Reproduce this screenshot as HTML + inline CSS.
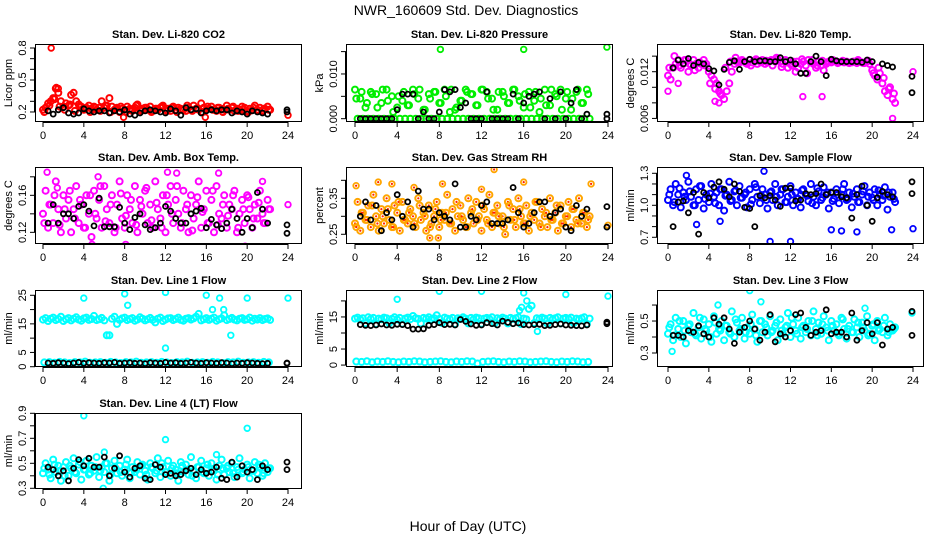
<!DOCTYPE html>
<html><head><meta charset="utf-8">
<style>
html,body{margin:0;padding:0;background:#fff;}
svg{display:block;font-family:"Liberation Sans",sans-serif;}
</style></head>
<body>
<svg id="chart" width="936" height="540" viewBox="0 0 936 540" xmlns="http://www.w3.org/2000/svg">
<rect x="0" y="0" width="936" height="540" fill="#fff"/>
<text x="466" y="15" font-size="14" text-anchor="middle">NWR_160609  Std. Dev. Diagnostics</text>
<text x="468" y="531" font-size="14" text-anchor="middle">Hour of Day (UTC)</text>
</svg>
<script>
// ---- data ----
const xTicks = [0,4,8,12,16,20,24];

const co2Color = [0.22,0.24,0.28,0.30,0.33,0.42,0.38,0.30,0.25,0.28,
0.26,0.36,0.38,0.30,0.27,0.25,0.22,0.24,0.26,0.23,
0.25,0.22,0.24,0.30,0.24,0.26,0.33,0.25,0.22,0.24,
0.20,0.23,0.22,0.25,0.23,0.21,0.24,0.27,0.22,0.23,
0.24,0.22,0.25,0.21,0.23,0.22,0.24,0.26,0.22,0.23,
0.21,0.25,0.22,0.24,0.23,0.22,0.21,0.24,0.22,0.26,
0.23,0.22,0.28,0.24,0.22,0.23,0.25,0.22,0.21,0.24,
0.23,0.22,0.26,0.22,0.24,0.21,0.23,0.22,0.25,0.24,
0.21,0.23,0.22,0.26,0.22,0.24,0.21,0.23,0.25,0.22];
const co2Color2 = [0.20,0.26,0.32,0.25,0.22,0.27,0.21,0.25,0.23,0.20,
0.24,0.21,0.26,0.20,0.23,0.25,0.20,0.22,0.26,0.21,
0.24,0.20,0.23,0.25,0.21,0.24,0.20,0.22,0.26,0.21,
0.23,0.20,0.25,0.22,0.24,0.20,0.23,0.25,0.21,0.22,
0.20,0.24,0.21,0.23,0.22];
const co2Black = [0.21,0.18,0.22,0.24,0.19,0.18,0.19,0.23,0.21,0.20,
0.21,0.21,0.19,0.21,0.20,0.22,0.18,0.17,0.19,0.21,
0.22,0.21,0.20,0.19,0.23,0.21,0.17,0.24,0.22,0.23,
0.19,0.21,0.22,0.21,0.22,0.22,0.19,0.21,0.20,0.18,
0.21,0.20,0.19,0.18];
const co2Late = [0.22,0.20];
const co2OutH = [0.8,1.3,1.5,7.9,15.9,24];
const co2OutV = [0.80,0.43,0.42,0.15,0.15,0.17];

const presColor = [0.0065,0,0.0045,0,0.0025,0,0.006,0,0.0055,0,
0.0035,0,0.0065,0,0.005,0,0.0025,0,0.004,0,
0.003,0,0.0065,0,0.0045,0,0.002,0,0.0055,0,
0.006,0,0.0035,0,0.0065,0,0.0015,0,0.002,0,
0.004,0,0.0065,0,0.0055,0,0.003,0,0.0065,0,
0.006,0,0.0045,0,0.002,0,0.006,0,0.0035,0,
0.0065,0,0.005,0,0.0025,0,0.006,0,0.004,0,
0.0015,0,0.0065,0,0.003,0,0.0055,0,0.0065,0,
0.0045,0,0.002,0,0.006,0,0.0035,0,0.0065,0];
const presColor2 = [0.0045,0.006,0.0035,0.0055,0.0025,0.0065,0.004,0.0015,0.005,0.006,
0.003,0.0055,0.0065,0.002,0.0045,0.006,0.0035,0.005,0.0065,0.0025,
0.004,0.006,0.0055,0.003,0.0065,0.0045,0.002,0.006,0.005,0.0035,
0.0065,0.004,0.0055,0.0025,0.006,0.0045,0.003,0.0065,0.005,0.002,
0.006,0.0045,0.0065,0.0035,0.0055];
const presBlack = [0,0,0,0,0,0,0,0.002,0.0055,0.0055,
0.0055,0,0.0015,0,0,0.0015,0.0065,0.006,0.0065,0.0025,
0.0035,0,0,0,0.006,0,0,0,0,0.0055,
0,0.0035,0.005,0.0055,0.006,0,0.0045,0,0.006,0,
0.0035,0.0065,0,0.001];
const presLate = [0.001,0];
const presOutH = [8.1,16,23.9];
const presOutV = [0.0155,0.0155,0.016];

const tempColor = [0.0115,0.011,0.0125,0.013,0.0135,0.0125,0.013,0.0135,0.012,0.0128,
0.0135,0.013,0.0125,0.013,0.0135,0.013,0.012,0.0115,0.011,0.0105,
0.0095,0.009,0.0085,0.0095,0.0105,0.012,0.013,0.0133,0.0132,0.0135,
0.0133,0.013,0.0135,0.0132,0.0134,0.013,0.0133,0.0135,0.013,0.0132,
0.0134,0.0128,0.0133,0.0136,0.0133,0.013,0.0135,0.0125,0.013,0.0133,
0.012,0.0125,0.013,0.0133,0.0128,0.0135,0.0132,0.013,0.0125,0.0133,
0.0128,0.0122,0.013,0.0133,0.0132,0.0134,0.0133,0.0132,0.0133,0.0132,
0.0133,0.0131,0.0132,0.0133,0.0131,0.0133,0.0132,0.0131,0.0133,0.013,
0.0122,0.0115,0.011,0.0118,0.0105,0.0095,0.009,0.01,0.0085,0.008];
const tempColor2 = [0.0125,0.014,0.0128,0.0135,0.013,0.0122,0.0132,0.0128,0.0105,0.0098,
0.0092,0.0125,0.0133,0.0138,0.0134,0.0131,0.0128,0.0136,0.0132,0.0134,
0.0135,0.0138,0.0126,0.0132,0.0128,0.0133,0.0136,0.0118,0.0135,0.0128,
0.0134,0.0132,0.0135,0.0131,0.0134,0.0132,0.0133,0.0135,0.0131,0.0134,
0.0118,0.0125,0.0112,0.0098,0.0092];
const tempBlack = [0.0125,0.0135,0.013,0.0137,0.0128,0.0132,0.013,0.0124,0.0121,0.0103,
0.0123,0.0132,0.0134,0.0123,0.0133,0.0136,0.0133,0.0134,0.0134,0.0133,
0.0133,0.0138,0.0133,0.0135,0.013,0.0118,0.0118,0.0133,0.014,0.0133,
0.0115,0.0136,0.0134,0.0133,0.0133,0.0133,0.0133,0.0132,0.0135,0.0133,
0.0113,0.013,0.0128,0.0126];
const tempLate = [0.0114,0.0093];
const tempOutH = [0,1,13.2,15.1,4.6,5,22,24];
const tempOutV = [0.0095,0.0105,0.0088,0.0088,0.0082,0.008,0.006,0.012];

const ambColor = [0.14,0.165,0.125,0.15,0.13,0.175,0.145,0.12,0.16,0.135,
0.155,0.12,0.145,0.17,0.13,0.15,0.125,0.16,0.14,0.115,
0.165,0.135,0.155,0.125,0.17,0.145,0.13,0.16,0.12,0.15,
0.175,0.135,0.125,0.16,0.145,0.13,0.17,0.12,0.155,0.14,
0.165,0.13,0.15,0.125,0.175,0.145,0.135,0.16,0.12,0.15,
0.17,0.13,0.155,0.14,0.125,0.165,0.145,0.12,0.16,0.135,
0.15,0.175,0.125,0.145,0.165,0.13,0.155,0.12,0.17,0.14,
0.135,0.16,0.125,0.15,0.145,0.165,0.12,0.14,0.155,0.13,
0.16,0.145,0.125,0.15,0.135,0.165,0.14,0.13,0.155,0.145];
const ambColor2 = [0.13,0.15,0.16,0.128,0.145,0.165,0.135,0.155,0.125,0.16,
0.14,0.17,0.132,0.15,0.125,0.162,0.138,0.155,0.128,0.148,
0.168,0.133,0.152,0.125,0.16,0.14,0.17,0.13,0.15,0.122,
0.158,0.142,0.13,0.165,0.128,0.15,0.138,0.16,0.125,0.145,
0.158,0.135,0.152,0.13,0.145];
const ambBlack = [0.13,0.15,0.13,0.14,0.14,0.135,0.148,0.15,0.143,0.127,
0.157,0.126,0.126,0.126,0.147,0.13,0.123,0.136,0.14,0.128,
0.123,0.125,0.13,0.148,0.143,0.135,0.13,0.13,0.14,0.143,
0.146,0.125,0.134,0.128,0.124,0.13,0.145,0.135,0.12,0.135,
0.125,0.163,0.145,0.13];
const ambLate = [0.128,0.119];
const ambOutH = [0.4,1.4,5.4,12.2,13.1,17.2,21.5,24,4.8,8.1,19.8];
const ambOutV = [0.185,0.168,0.18,0.185,0.184,0.184,0.175,0.15,0.107,0.107,0.105];

const rhColor = [0.28,0.34,0.26,0.31,0.29,0.33,0.27,0.36,0.30,0.26,
0.32,0.28,0.35,0.29,0.27,0.33,0.31,0.26,0.34,0.29,
0.28,0.32,0.30,0.27,0.35,0.29,0.31,0.26,0.33,0.28,
0.30,0.34,0.27,0.31,0.29,0.36,0.28,0.32,0.26,0.30,
0.33,0.29,0.27,0.35,0.31,0.28,0.34,0.30,0.26,0.32,
0.29,0.36,0.27,0.31,0.33,0.28,0.30,0.25,0.34,0.29,
0.32,0.27,0.35,0.30,0.28,0.33,0.26,0.31,0.29,0.34,
0.28,0.32,0.30,0.27,0.35,0.29,0.31,0.26,0.33,0.28,
0.30,0.34,0.27,0.32,0.29,0.35,0.28,0.31,0.27,0.30];
const rhColor2 = [0.27,0.31,0.29,0.33,0.28,0.30,0.32,0.27,0.34,0.29,
0.31,0.28,0.33,0.30,0.27,0.32,0.29,0.31,0.28,0.34,
0.30,0.27,0.32,0.29,0.33,0.28,0.31,0.30,0.27,0.33,
0.29,0.32,0.28,0.30,0.34,0.27,0.31,0.29,0.33,0.28,
0.30,0.32,0.28,0.31,0.29];
const rhBlack = [0.30,0.34,0.29,0.33,0.26,0.31,0.29,0.36,0.30,0.34,
0.27,0.37,0.32,0.32,0.29,0.31,0.30,0.29,0.39,0.27,
0.27,0.30,0.29,0.33,0.34,0.28,0.28,0.28,0.29,0.38,
0.31,0.27,0.28,0.31,0.34,0.34,0.30,0.31,0.32,0.27,
0.26,0.33,0.30,0.32];
const rhLate = [0.327,0.27];
const rhOutH = [0.1,2.2,3.5,5.6,8.3,12,13.2,16,22.4,7.1,7.9,24];
const rhOutV = [0.385,0.395,0.39,0.38,0.39,0.375,0.43,0.395,0.39,0.24,0.24,0.275];

const sfColor = [1.05,1.15,1.0,1.2,1.1,0.98,1.12,1.05,1.22,1.08,
1.0,1.15,1.05,1.18,0.97,1.1,1.03,1.2,1.08,1.12,
1.0,1.15,0.95,1.1,1.22,1.05,1.13,1.0,1.18,1.07,
1.1,0.98,1.15,1.05,1.2,1.08,1.02,1.15,1.1,0.97,
1.12,1.05,1.2,1.0,1.1,1.15,1.03,1.08,1.18,1.0,
1.12,1.06,0.98,1.15,1.1,1.04,1.2,1.08,1.0,1.13,
1.05,1.17,1.1,0.97,1.12,1.06,1.15,1.02,1.1,1.2,
1.05,1.12,0.98,1.08,1.15,1.03,1.1,1.18,1.0,1.12,
1.07,1.15,1.0,1.1,1.05,1.17,0.96,1.08,1.12,1.03];
const sfColor2 = [1.1,1.03,1.16,1.08,1.13,1.0,1.18,1.06,1.11,1.02,
1.15,1.09,1.04,1.14,1.07,1.12,1.01,1.17,1.09,1.05,
1.13,1.08,1.15,1.03,1.1,1.06,1.14,1.09,1.02,1.16,
1.07,1.12,1.04,1.1,1.15,1.06,1.11,1.03,1.13,1.08,
1.05,1.14,1.09,1.12,1.06];
const sfBlack = [0.8,1.03,1.04,0.93,1.12,0.73,1.12,1.07,1.17,1.22,
1.15,1.08,1.2,1.13,0.98,0.97,0.8,1.09,1.07,1.09,
1.05,0.99,1.16,1.16,1.04,1.05,1.11,1.1,1.11,1.2,
1.1,1.12,1.12,1.08,1.07,0.88,1.1,1.18,1.0,0.85,
1.07,1.13,1.1,1.08];
const sfLate = [1.22,1.11];
const sfOutH = [1.8,10,12,9.4,16,17,18.5,21.9,24,2.8,5.1];
const sfOutV = [1.28,0.66,0.66,1.32,0.77,0.76,0.75,0.77,0.78,0.82,0.85];

const l1Color = [16.5,17,16,16.8,17.2,16.3,16.7,17.5,16,16.6,
17,16.2,16.8,17.3,16.5,16.1,16.9,17.2,16.4,16.7,
17.8,16.3,16.6,17.1,16.2,11,11,16.8,17.5,15,
16.4,16.9,17.2,16.3,16.7,17,16.1,16.5,17.3,16.8,
16.2,16.6,17.1,16.4,15.5,16.8,17.2,16,16.5,16.9,
17,16.3,16.7,17.2,16.4,16.1,16.8,17,16.5,16.9,
17.5,18.5,16.2,16.6,17,16.4,16.8,17.2,16.1,16.6,
16.9,18,16.3,16.7,17.1,16.5,16.2,16.8,17,16.4,
16.6,17.2,16.1,16.8,16.5,17,16.3,16.7,16.9,16.4];
const l1Color2 = [1.5,1.6,1.4,1.7,1.5,1.3,1.6,1.5,1.8,1.4,
1.5,1.6,1.4,1.7,1.5,1.3,1.6,1.5,1.8,1.4,
1.5,1.6,1.4,1.7,1.5,1.3,1.6,1.5,1.8,1.4,
1.5,1.6,1.4,1.7,1.5,1.3,1.6,1.5,1.8,1.4,
1.5,1.6,1.4,1.7,1.5];
const l1Black = [1.3,1.2,1.4,1.3,1.1,1.3,1.5,1.2,1.4,1.3,
1.2,1.4,1.3,1.5,1.2,1.3,1.4,1.2,1.3,1.1,
1.4,1.3,1.2,1.5,1.3,1.4,1.2,1.3,1.5,1.3,
1.2,1.4,1.3,1.2,1.4,1.3,1.1,1.3,1.2,1.4,
1.3,1.2,1.1,1.2];
const l1Late = [1.3,1.2];
const l1OutH = [4,8,8.3,12,17.3,16,17.7,20,24,12,18.4,16.6];
const l1OutV = [24,25.5,21.5,26,24,25,20,24,24,6.5,11,20];

const l2Color = [14.5,14.8,14.2,14.6,13,14.9,14.4,14.7,12.8,14.5,
14.3,14.8,14.6,13.1,14.4,14.9,14.2,14.7,12.9,14.5,
14.8,14.3,15.3,14.6,14.4,13,14.7,14.5,14.9,14.2,
14.6,15.5,14.4,13.1,14.8,14.5,14.3,14.7,12.8,14.6,
14.4,14.9,14.5,13,14.7,14.3,14.8,14.6,12.9,14.5,
14.7,14.4,14.9,13.1,14.6,14.3,14.8,14.5,13,14.7,
14.4,14.6,14.9,12.8,14.5,14.3,17.5,18.5,13.1,14.6,
14.4,14.8,14.5,12.9,14.7,14.3,14.6,14.9,13,14.5,
14.7,14.4,14.8,13.1,14.5,14.3,14.6,14.9,12.8,14.5];
const l2Color2 = [1.1,1.0,1.2,0.9,1.1,1.0,1.2,1.0,0.9,1.1,
1.0,1.2,1.1,0.9,1.0,1.1,1.2,1.0,0.9,1.1,
1.0,1.2,1.1,0.5,1.0,1.1,1.2,1.0,0.9,1.1,
1.0,1.2,1.1,0.9,1.0,1.1,1.2,1.0,0.9,1.1,
1.0,1.2,1.1,0.9,1.0];
const l2Black = [12.6,12.4,12.3,12.5,12.8,12.5,12.4,12.7,12.6,12.3,
11.2,11.2,11.3,12.4,12.6,13.2,12.6,12.7,12.5,14.2,
13.6,12.8,12.4,12.5,13.2,12.9,12.5,13.7,13.3,12.9,
13.1,12.6,12.5,12.6,12.7,12.3,12.4,12.6,12.8,12.5,
12.4,12.3,12.2,12.5];
const l2Late = [13.4,12.9];
const l2OutH = [4,8,12,16,20,24,15.8,16.3,15.6,17.3];
const l2OutV = [20.5,23,23,22.5,22,21.5,18,20,17,10.5];

const l3Color = [0.42,0.48,0.38,0.52,0.45,0.40,0.50,0.36,0.47,0.43,
0.55,0.41,0.46,0.39,0.51,0.44,0.48,0.37,0.53,0.42,
0.45,0.50,0.38,0.47,0.43,0.56,0.40,0.49,0.44,0.52,
0.39,0.46,0.42,0.54,0.45,0.37,0.50,0.43,0.48,0.41,
0.53,0.44,0.47,0.38,0.51,0.42,0.46,0.55,0.40,0.48,
0.44,0.52,0.39,0.47,0.43,0.50,0.41,0.56,0.45,0.49,
0.42,0.53,0.46,0.38,0.50,0.44,0.48,0.41,0.52,0.45,
0.39,0.47,0.43,0.51,0.46,0.40,0.49,0.44,0.53,0.42,
0.47,0.38,0.50,0.45,0.43,0.52,0.41,0.48,0.44,0.46];
const l3Color2 = [0.46,0.41,0.50,0.44,0.48,0.42,0.52,0.45,0.40,0.49,
0.44,0.47,0.42,0.51,0.45,0.43,0.48,0.41,0.50,0.46,
0.43,0.49,0.44,0.47,0.52,0.42,0.46,0.45,0.50,0.41,
0.48,0.44,0.47,0.42,0.51,0.45,0.43,0.49,0.46,0.41,
0.48,0.44,0.47,0.43,0.45];
const l3Black = [0.41,0.41,0.40,0.44,0.43,0.47,0.42,0.40,0.52,0.48,
0.52,0.45,0.36,0.43,0.46,0.50,0.45,0.38,0.43,0.54,
0.37,0.42,0.40,0.44,0.54,0.55,0.46,0.41,0.43,0.44,
0.57,0.42,0.43,0.43,0.40,0.55,0.38,0.44,0.49,0.42,
0.49,0.35,0.45,0.46];
const l3Late = [0.56,0.41];
const l3OutH = [8,0.4,4.9,9.1,19.3,23.9];
const l3OutV = [0.69,0.31,0.60,0.62,0.58,0.55];

const l4Color = [0.42,0.50,0.45,0.38,0.53,0.43,0.48,0.36,0.47,0.51,
0.40,0.46,0.54,0.42,0.49,0.37,0.45,0.52,0.41,0.48,
0.44,0.55,0.39,0.47,0.43,0.50,0.36,0.46,0.52,0.42,
0.48,0.40,0.45,0.53,0.38,0.47,0.43,0.51,0.41,0.49,
0.44,0.37,0.50,0.46,0.42,0.54,0.39,0.47,0.43,0.52,
0.40,0.48,0.45,0.36,0.51,0.43,0.49,0.41,0.55,0.44,
0.38,0.47,0.52,0.42,0.46,0.40,0.50,0.44,0.37,0.48,
0.53,0.41,0.46,0.43,0.50,0.39,0.47,0.54,0.42,0.45,
0.49,0.38,0.44,0.51,0.42,0.47,0.40,0.50,0.43,0.46];
const l4Color2 = [0.46,0.41,0.49,0.44,0.40,0.48,0.43,0.51,0.45,0.42,
0.47,0.44,0.50,0.41,0.46,0.43,0.49,0.42,0.45,0.48,
0.41,0.47,0.44,0.50,0.43,0.46,0.42,0.48,0.45,0.40,
0.47,0.43,0.49,0.44,0.41,0.46,0.48,0.42,0.45,0.43,
0.47,0.44,0.49,0.42,0.46];
const l4Black = [0.47,0.45,0.40,0.44,0.36,0.46,0.53,0.48,0.54,0.47,
0.47,0.55,0.40,0.46,0.56,0.43,0.39,0.46,0.48,0.38,
0.37,0.49,0.47,0.41,0.42,0.40,0.41,0.44,0.46,0.41,
0.45,0.42,0.43,0.47,0.38,0.37,0.51,0.39,0.48,0.43,
0.45,0.37,0.48,0.45];
const l4Late = [0.51,0.45];
const l4OutH = [4,12,20,6,5.9,17];
const l4OutV = [0.88,0.69,0.78,0.59,0.30,0.57];

// ---- layout ----
const NS = 'http://www.w3.org/2000/svg';
const svg = document.getElementById('chart');
const colLeft = [35,346,657];
const colX0 = [43,355,668];
const colX24 = [288,608,913];
const rowTop = [44,167,290,413];
const rowBot = [122,244,367,489];
const BOXW = 267;

const panels = [
 {key:'co2', title:'Stan. Dev. Li-820 CO2', ylab:'Licor ppm', c:0, r:0, lo:0.106, hi:0.8375, ticks:[0.2,0.3,0.4,0.5,0.6,0.7,0.8], labels:['0.2','0.5','0.8'], color:'#ff0000', A:co2Color, B:co2Color2, K:co2Black, L:co2Late, OH:co2OutH, OV:co2OutV},
 {key:'pressure', title:'Stan. Dev. Li-820 Pressure', ylab:'kPa', c:1, r:0, lo:-0.00074, hi:0.0167, ticks:[0,0.005,0.010,0.015], labels:['0.000','0.010'], color:'#00ee00', A:presColor, B:presColor2, K:presBlack, L:presLate, OH:presOutH, OV:presOutV},
 {key:'temp', title:'Stan. Dev. Li-820 Temp.', ylab:'degrees C', c:2, r:0, lo:0.00554, hi:0.01556, ticks:[0.006,0.008,0.010,0.012,0.014], labels:['0.006','0.012'], color:'#ff00ff', A:tempColor, B:tempColor2, K:tempBlack, L:tempLate, OH:tempOutH, OV:tempOutV},
 {key:'ambbox', title:'Stan. Dev. Amb. Box Temp.', ylab:'degrees C', c:0, r:1, lo:0.1074, hi:0.1906, ticks:[0.12,0.14,0.16,0.18], labels:['0.12','0.16'], color:'#ff00ff', A:ambColor, B:ambColor2, K:ambBlack, L:ambLate, OH:ambOutH, OV:ambOutV},
 {key:'rh', title:'Stan. Dev. Gas Stream RH', ylab:'percent', c:1, r:1, lo:0.223, hi:0.437, ticks:[0.25,0.30,0.35,0.40], labels:['0.25','0.35'], color:'#ffa500', dot:'#ff2000', A:rhColor, B:rhColor2, K:rhBlack, L:rhLate, OH:rhOutH, OV:rhOutV},
 {key:'sampleflow', title:'Stan. Dev. Sample Flow', ylab:'ml/min', c:2, r:1, lo:0.637, hi:1.359, ticks:[0.7,0.8,0.9,1.0,1.1,1.2,1.3], labels:['0.7','1.0','1.3'], color:'#0000ff', A:sfColor, B:sfColor2, K:sfBlack, L:sfLate, OH:sfOutH, OV:sfOutV},
 {key:'line1', title:'Stan. Dev. Line 1 Flow', ylab:'ml/min', c:0, r:2, lo:-0.1, hi:26.85, ticks:[0,5,10,15,20,25], labels:['0','5','15','25'], color:'#00ffff', A:l1Color, B:l1Color2, K:l1Black, L:l1Late, OH:l1OutH, OV:l1OutV},
 {key:'line2', title:'Stan. Dev. Line 2 Flow', ylab:'ml/min', c:1, r:2, lo:-0.6, hi:23.4, ticks:[0,5,10,15,20], labels:['0','5','15'], color:'#00ffff', A:l2Color, B:l2Color2, K:l2Black, L:l2Late, OH:l2OutH, OV:l2OutV},
 {key:'line3', title:'Stan. Dev. Line 3 Flow', ylab:'ml/min', c:2, r:2, lo:0.2125, hi:0.694, ticks:[0.3,0.4,0.5,0.6], labels:['0.3','0.5'], color:'#00ffff', A:l3Color, B:l3Color2, K:l3Black, L:l3Late, OH:l3OutH, OV:l3OutV},
 {key:'line4', title:'Stan. Dev. Line 4 (LT) Flow', ylab:'ml/min', c:0, r:3, lo:0.2944, hi:0.9024, ticks:[0.3,0.4,0.5,0.6,0.7,0.8,0.9], labels:['0.3','0.5','0.7','0.9'], color:'#00ffff', A:l4Color, B:l4Color2, K:l4Black, L:l4Late, OH:l4OutH, OV:l4OutV}
];

function mk(tag, attrs, parent){
  const e = document.createElementNS(NS, tag);
  for (const k in attrs) e.setAttribute(k, attrs[k]);
  parent.appendChild(e);
  return e;
}

panels.forEach(p => {
  const g = mk('g', {}, svg);
  
  
  const left = colLeft[p.c], top = rowTop[p.r], bot = rowBot[p.r];
  const x0 = colX0[p.c], x24 = colX24[p.c];
  const xs = h => x0 + (x24 - x0) * h / 24;
  const ys = v => bot - (v - p.lo) / (p.hi - p.lo) * (bot - top);

  const cid = 'clip-' + p.key;
  const cp = mk('clipPath', {id: cid}, g);
  mk('rect', {x: left, y: top, width: BOXW, height: bot - top}, cp);

  const pts = mk('g', {'clip-path': 'url(#' + cid + ')'}, g);
  
  

  function ring(h, v, color, r, sw, dot, name){
    const c = mk('circle', {cx: xs(h).toFixed(1), cy: ys(v).toFixed(1), r: r, fill: 'none', stroke: color, 'stroke-width': sw}, pts);
    
    
    if (dot) {
      const d = mk('circle', {cx: xs(h).toFixed(1), cy: ys(v).toFixed(1), r: 1.1, fill: dot}, pts);
      
      
    }
  }
  p.A.forEach((v, i) => ring(i * 0.25, v, p.color, 3, 2, p.dot, p.key + '-point'));
  if (p.B) p.B.forEach((v, i) => ring(0.125 + i * 0.5, v, p.color, 3, 2, p.dot, p.key + '-point'));
  p.OH.forEach((h, i) => ring(h, p.OV[i], p.color, 2.8, 1.8, p.dot, p.key + '-outlier'));
  p.K.forEach((v, i) => ring(0.5 + i * 0.5, v, '#000', 2.5, 1.8, null, p.key + '-black-point'));
  p.L.forEach(v => ring(23.9, v, '#000', 2.5, 1.8, null, p.key + '-black-point'));

  const box = mk('rect', {x: left + 0.5, y: top + 0.5, width: BOXW - 1, height: bot - top - 1, fill: 'none', stroke: '#000', 'stroke-width': 1}, g);
  
  

  const t = mk('text', {x: left + BOXW / 2, y: top - 6, 'font-size': 11, 'font-weight': 'bold', 'text-anchor': 'middle'}, g);
  t.textContent = p.title;
  
  

  const xa = mk('g', {}, g);
  
  
  mk('line', {x1: xs(0), x2: xs(24), y1: bot + 0.5, y2: bot + 0.5, stroke: '#000'}, xa);
  xTicks.forEach(h => {
    mk('line', {x1: xs(h), x2: xs(h), y1: bot, y2: bot + 5, stroke: '#000'}, xa);
    const tl = mk('text', {x: xs(h), y: bot + 17, 'font-size': 11, 'text-anchor': 'middle'}, xa);
    tl.textContent = String(h);
    
    
  });

  const ya = mk('g', {}, g);
  
  
  const tk = p.ticks;
  mk('line', {x1: left - 0.5, x2: left - 0.5, y1: ys(tk[0]), y2: ys(tk[tk.length - 1]), stroke: '#000'}, ya);
  tk.forEach(v => {
    mk('line', {x1: left - 5, x2: left, y1: ys(v), y2: ys(v), stroke: '#000'}, ya);
  });
  p.labels.forEach(s => {
    const v = parseFloat(s);
    const tx = left - 9, ty = ys(v);
    const tl = mk('text', {x: tx, y: ty, 'font-size': 11, 'text-anchor': 'middle', transform: 'rotate(-90 ' + tx + ' ' + ty + ')'}, ya);
    tl.textContent = s;
    
    
  });
  const yx = left - 23, yy = (top + bot) / 2;
  const yl = mk('text', {x: yx, y: yy, 'font-size': 11, 'text-anchor': 'middle', transform: 'rotate(-90 ' + yx + ' ' + yy + ')'}, g);
  yl.textContent = p.ylab;
  
  
});
</script>
</body></html>
